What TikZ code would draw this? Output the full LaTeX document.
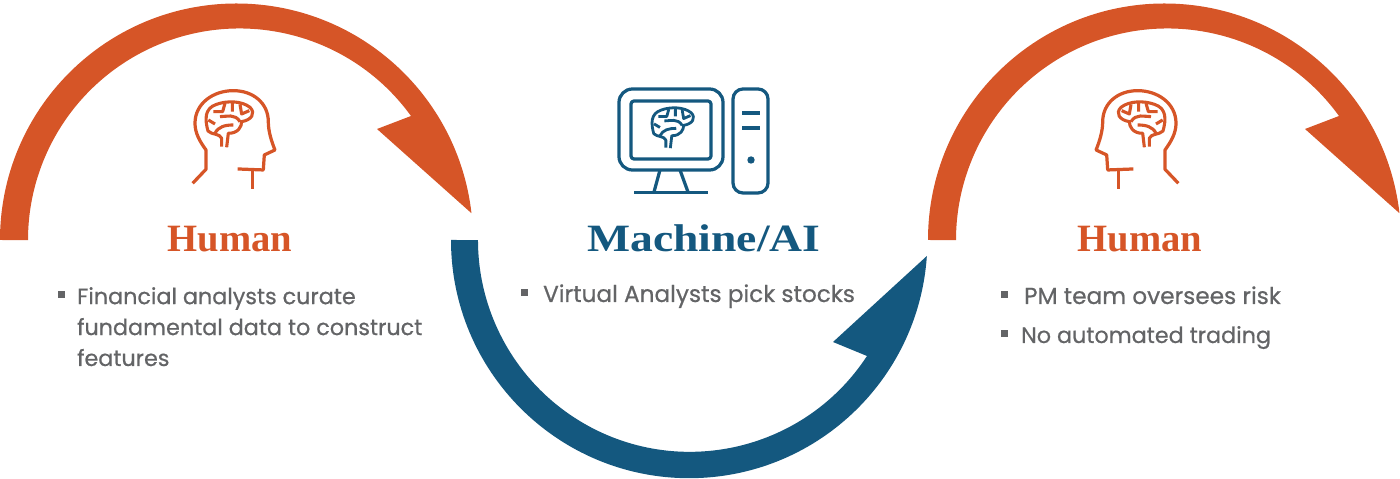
\documentclass[tikz,border=0pt]{standalone}
\usepackage{fontspec}
\setmainfont[RawFeature={embolden=0.6}]{Poppins}
\newfontfamily\titlefont{Liberation Serif}
\newfontfamily\widetitlefont[FakeStretch=1.18]{Liberation Serif}
\definecolor{rust}{HTML}{D65527}
\definecolor{navy}{HTML}{14587F}
\definecolor{bodygrey}{HTML}{636466}
\tikzset{
  title/.style={font=\titlefont\bfseries\fontsize{55}{55}\selectfont, anchor=base, inner sep=0pt},
  bodytext/.style={font=\fontsize{31.7}{44}\selectfont, text=bodygrey, align=left, anchor=base west, inner sep=0pt},
  widebody/.style={bodytext, font=\fontsize{33}{44}\selectfont},
  bullet/.style={fill=bodygrey, minimum size=0.35cm, inner sep=0pt},
  iconline/.style={line width=4.6pt, line join=round},
  pics/brain/.style={code={
    \draw[iconline, line width=#1] (155,-230) -- (155,-205) .. controls (150,-190) and (125,-195) .. (114,-183)
      .. controls (105,-150) and (102,-115) .. (140,-103) .. controls (170,-92) and (215,-92) .. (240,-112)
      .. controls (258,-130) and (245,-150) .. (215,-155) .. controls (215,-170) and (205,-190) .. (175,-190) -- (170,-232);
    \draw[iconline, line width=#1] (135,-190) .. controls (145,-170) and (165,-165) .. (190,-165)
      (150,-140) .. controls (170,-140) and (195,-130) .. (210,-155)
      (165,-100) -- (158,-125) -- (130,-125)
      (187,-98) -- (187,-125)
      (210,-103) -- (215,-132) -- (238,-122)
      (115,-150) -- (135,-162);
  }},
  pics/headicon/.style={code={
    \draw[iconline] (68,-340) -- (108,-298) -- (108,-240) .. controls (90,-215) and (75,-190) .. (75,-160)
      .. controls (75,-100) and (130,-62) .. (190,-62) .. controls (250,-62) and (295,-100) .. (295,-155)
      .. controls (295,-185) and (305,-215) .. (315,-240) -- (283,-255) -- (280,-300) -- (203,-297);
    \draw[iconline] (247,-300) -- (247,-358);
    \pic {brain=4.4pt};
  }}
}
\begin{document}
\begin{tikzpicture}[x=0.05cm,y=0.05cm]
  \useasboundingbox (0,0) rectangle (1400,479);
  % left arrow
  \fill[rust] (0,239) arc (180:6.5:236.5) -- (377,350) -- (411,363) arc (35.9:180:211.6) -- cycle;
  % middle arrow
  \fill[navy] (451,239) arc (180:356.15:238.2) -- (833,137) -- (867,123) arc (326.8:180:211.8) -- cycle;
  % right arrow
  \fill[rust] (928,239) arc (180:6.5:236.5) -- (1305,350) -- (1339,363) arc (35.9:180:211.6) -- cycle;

  % icons
  \begin{scope}[rust, shift={(170,409)}, x=0.0166667cm, y=0.0166667cm]
    \pic (headleft) {headicon};
  \end{scope}
  \begin{scope}[rust, shift={(1201,409)}, x=-0.0166667cm, y=0.0166667cm]
    \pic (headright) {headicon};
  \end{scope}
  \begin{scope}[navy]
    \draw[iconline, rounded corners=0.67cm] (619,390) rectangle (723,309);
    \draw[iconline, rounded corners=0.15cm] (631,378) rectangle (711,320);
    \draw[iconline] (660,309) -- (654,287) (680,309) -- (688,287);
    \draw[iconline] (634,286.5) -- (708,286.5);
    \draw[iconline, rounded corners=0.5cm] (733,390) rectangle (768,286);
    \draw[iconline] (742,366) -- (760,366) (742,351) -- (760,351);
    \fill (751,319) circle (3.7);
  \end{scope}
  \begin{scope}[navy, shift={(620,399.5)}, x=0.0148cm, y=0.0148cm]
    \pic (brainscreen) {brain=4pt};
  \end{scope}

  % titles
  \node[title, text=rust] (humanleft) at (230,227) {Human};
  \node[title, text=navy, font=\widetitlefont\bfseries\fontsize{55}{55}\selectfont] (machine) at (704,227) {Machine/AI};
  \node[title, text=rust] (humanright) at (1140,227) {Human};

  % bullets
  \node[bullet] (bulleta) at (61,184) {};
  \node[bullet] (bulletb) at (524,186) {};
  \node[bullet] (bulletc) at (1004,184) {};
  \node[bullet] (bulletd) at (1004,145) {};
  \node[bodytext] (analysts) at (77,113) {Financial analysts curate\\fundamental data to construct\\features};
  \node[widebody] (virtual) at (543,177) {Virtual Analysts pick stocks};
  \node[widebody] (pmteam) at (1024,175) {PM team oversees risk};
  \node[bodytext] (notrading) at (1021,136) {No automated trading};
\end{tikzpicture}
\end{document}
